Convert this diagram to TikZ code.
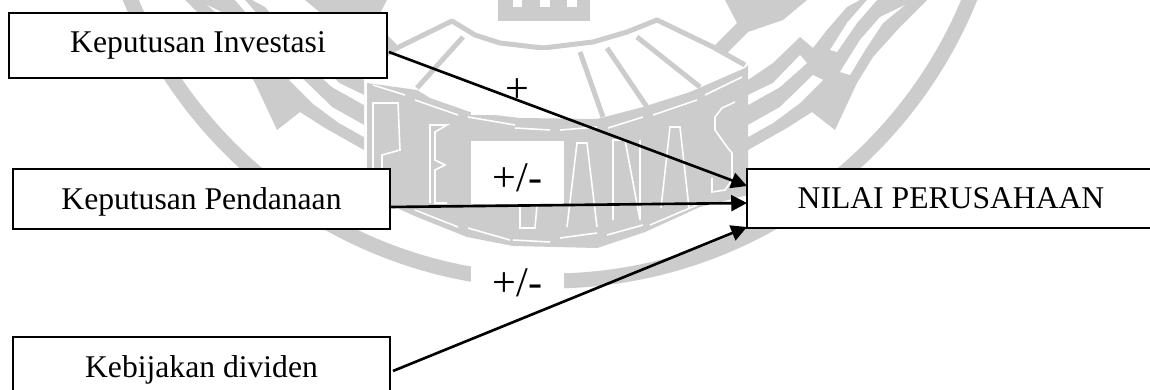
\documentclass[tikz,border=0pt]{standalone}
\usepackage{fontspec}
\setmainfont{Liberation Serif}
\usetikzlibrary{arrows.meta}
\definecolor{sealgray}{HTML}{CCCCCC}

\begin{document}
\begin{tikzpicture}[x=0.02cm,y=-0.02cm]

\tikzstyle{box}=[draw,fill=white,outer sep=0pt,line width=1pt,minimum height=1.2cm,text height=14pt,text depth=2.6pt,font=\fontsize{18}{22}\selectfont]
\tikzstyle{sign}=[anchor=base,inner sep=0pt,font=\fontsize{24}{28}\selectfont]
\tikzstyle{conn}=[line width=1.5pt,-{Triangle[length=9pt,width=9pt]}]
\tikzstyle{seal}=[sealgray,line width=0.1cm,line join=round]
\tikzstyle{gap}=[white,line width=0.9pt]

\clip (0,0) rectangle (1150,389);

% Cincin luar

\draw [sealgray,line width=0.3cm] (550,-172) circle [radius=453];

% Sayap

\foreach \sx/\dx in {1/0,-1/1112}{
\begin{scope}[shift={(\dx,0)},xscale=\sx]
\fill [sealgray] (748,80) -- (773,63) -- (800,37) -- (813,48) -- (827,30) -- (847,7) -- (860,0) -- (927,0) -- (900,27) -- (873,57) -- (857,83) -- (835,130) -- (812,112) -- (787,128) -- (748,150) -- cycle;
\fill [white] (748,95) -- (773,83) -- (800,55) -- (807,63) -- (780,87) -- (748,105) -- cycle;
\fill [white] (748,125) -- (780,107) -- (813,75) -- (823,80) -- (800,103) -- (773,123) -- (748,137) -- cycle;
\fill [white] (830,50) -- (847,23) -- (867,0) -- (877,0) -- (857,23) -- (837,52) -- cycle;
\fill [white] (840,72) -- (860,40) -- (880,17) -- (905,5) -- (883,23) -- (867,47) -- (850,75) -- cycle;
\fill [sealgray] (725,0) -- (737,23) -- (715,45) -- (727,53) -- (748,32) -- (783,20) -- (807,0) -- cycle;
\end{scope}
}

% Mahkota

\fill [sealgray] (498,0) rectangle (590,21);
\fill [white] (513,0) rectangle (522,7);
\fill [white] (540,0) rectangle (550,7);
\fill [white] (567,0) rectangle (577,7);

% Kipas

\draw [seal] (367,65) -- (399,47) -- (452,21) -- (475,35) -- (500,43) -- (543,48) -- (593,42) -- (627,32) -- (657,20) -- (713,47) -- (745,65);
\draw [seal] (580,52) -- (603,117);
\draw [seal] (607,48) -- (647,107);
\draw [seal] (637,37) -- (700,87);
\draw [seal] (463,37) -- (417,88);

% Perisai

\fill [sealgray] (367,83) -- (417,90) -- (430,98) -- (470,112) -- (520,118) -- (597,119) -- (643,107) -- (690,92) -- (745,68) -- (748,65) -- (748,195) -- (700,207) -- (645,232) -- (597,248) -- (513,246) -- (467,237) -- (417,217) -- (390,205) -- (367,190) -- cycle;

% Garis putih perisai

\draw [gap] (373,85) -- (405,95);
\draw [gap] (415,100) -- (458,115);
\draw [gap] (468,117) -- (515,125);
\draw [gap] (515,128) -- (550,130);
\draw [gap] (560,130) -- (597,127);
\draw [gap] (608,128) -- (643,117);
\draw [gap] (653,115) -- (697,100);
\draw [gap] (705,95) -- (742,77);
\draw [gap] (415,210) -- (458,227);
\draw [gap] (468,228) -- (510,240);
\draw [gap] (513,240) -- (550,242);
\draw [gap] (560,238) -- (597,233);
\draw [gap] (607,235) -- (643,225);
\draw [gap] (650,225) -- (697,205);

% Huruf

\draw [gap] (373,170) -- (373,103) -- (398,103) -- (400,150) -- (382,155) -- (382,170);
\draw [gap] (430,203) -- (430,125) -- (447,125) -- (435,132) -- (435,160) -- (445,165) -- (435,170) -- (435,203) -- (447,203);
\draw [gap] (520,205) -- (520,228) -- (535,228) -- (537,205);
\draw [gap] (567,227) -- (577,143) -- (587,143) -- (597,227);
\draw [gap] (613,220) -- (613,140) -- (625,140) -- (640,220) -- (640,140);
\draw [gap] (661,208) -- (670,127) -- (680,127) -- (689,208);
\draw [gap] (735,102) -- (722,108) -- (715,117) -- (715,130) -- (727,147) -- (732,153) -- (732,180) -- (725,190) -- (712,192) -- (712,178);

% Kotak tanda

\fill [white] (471,50) rectangle (564,115);
\fill [white] (471,141) rectangle (564,204);
\fill [white] (471,258) rectangle (564,330);

% Kotak

\node (invest) [box,minimum width=7.56cm,minimum height=1.3cm,text height=12pt,text depth=4.6pt] at (198,45.5) {Keputusan Investasi};
\node (dana) [box,minimum width=7.54cm] at (201.5,199) {Keputusan Pendanaan};
\node (dividen) [box,minimum width=7.54cm] at (201.5,367) {Kebijakan dividen};
\node (nilai) [box,minimum width=8.16cm,minimum height=1.18cm] at (951,198.5) {NILAI PERUSAHAAN};

% Panah

\draw [conn] ([xshift=0.04cm,yshift=-0.13cm]invest.east) -- ([yshift=0.25cm]nilai.west);
\draw [conn] ([yshift=-0.16cm]dana.east) -- ([yshift=-0.09cm]nilai.west);
\draw [conn] ([xshift=0.06cm,yshift=-0.08cm]dividen.east) -- ([yshift=-0.57cm]nilai.west);

% Tanda

\node (signa) [sign] at (517.5,102) {+};
\node (signb) [sign] at (517.5,191) {+/-};
\node (signc) [sign] at (517.5,296) {+/-};

\end{tikzpicture}
\end{document}
